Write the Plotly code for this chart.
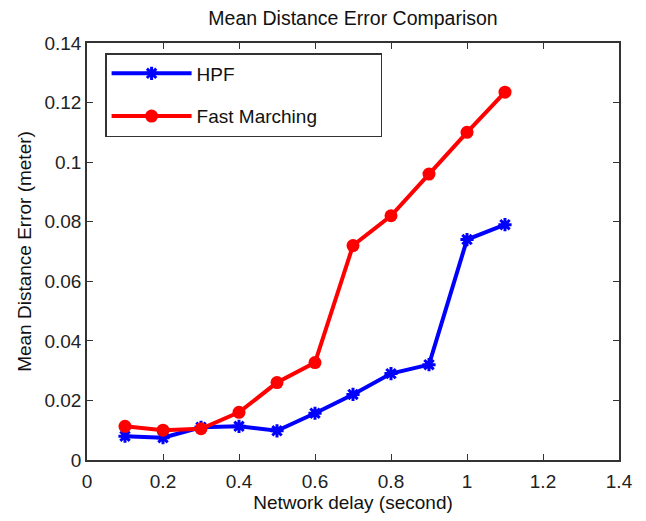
import plotly.graph_objects as go

delay = [0.1, 0.2, 0.3, 0.4, 0.5, 0.6, 0.7, 0.8, 0.9, 1.0, 1.1]
hpf = [0.008, 0.0075, 0.011, 0.0113, 0.0098, 0.0157, 0.022, 0.029, 0.032, 0.074, 0.079]
fast_marching = [0.0113, 0.010, 0.0105, 0.016, 0.026, 0.0327, 0.072, 0.082, 0.096, 0.110, 0.1235]

x_ticks = [0, 0.2, 0.4, 0.6, 0.8, 1.0, 1.2, 1.4]
x_labels = ["0", "0.2", "0.4", "0.6", "0.8", "1", "1.2", "1.4"]
y_ticks = [0, 0.02, 0.04, 0.06, 0.08, 0.1, 0.12, 0.14]
y_labels = ["0", "0.02", "0.04", "0.06", "0.08", "0.1", "0.12", "0.14"]

font = "Liberation Sans, Arial, sans-serif"
pad = "\u00a0" * 11

fig = go.Figure()
fig.add_trace(go.Scatter(
    x=delay, y=hpf, name="HPF" + pad * 2, legendgroup="hpf", mode="lines+markers",
    line=dict(color="#0000ff", width=4),
    marker=dict(symbol="asterisk-open", size=11, color="#0000ff",
                line=dict(color="#0000ff", width=3)),
))
fig.add_trace(go.Scatter(
    x=delay, y=fast_marching, name="Fast Marching" + pad, legendgroup="fm",
    mode="lines+markers",
    line=dict(color="#ff0000", width=4),
    marker=dict(symbol="circle", size=13, color="#ff0000"),
))

axis_common = dict(
    showgrid=False, zeroline=False, showline=True, mirror="ticks",
    linecolor="#333333", linewidth=1.5, ticks="inside", ticklen=6,
    tickcolor="#333333", tickfont=dict(family=font, size=19, color="#222222"),
)

fig.update_layout(
    width=646, height=521,
    margin=dict(l=87, r=27, t=43, b=57),
    paper_bgcolor="white", plot_bgcolor="white",
    title=dict(text="Mean Distance Error Comparison", x=0.5, xanchor="center",
               xref="paper", y=0.965, yanchor="middle",
               font=dict(family=font, size=19.5, color="#111111")),
    xaxis=dict(range=[0, 1.4], tickvals=x_ticks, ticktext=x_labels,
               ticklabelstandoff=3,
               title=dict(text="Network delay (second)", standoff=4,
                          font=dict(family=font, size=19, color="#111111")),
               **axis_common),
    yaxis=dict(range=[0, 0.14], tickvals=y_ticks, ticktext=y_labels,
               title=dict(text="Mean Distance Error (meter)", standoff=8,
                          font=dict(family=font, size=19, color="#111111")),
               **axis_common),
    legend=dict(x=0.034, y=0.976, xanchor="left", yanchor="top",
                bordercolor="#333333", borderwidth=1.5, bgcolor="white",
                itemwidth=80, tracegroupgap=15,
                font=dict(family=font, size=19, color="#111111")),
    showlegend=True,
)

fig.write_html("out.html")
